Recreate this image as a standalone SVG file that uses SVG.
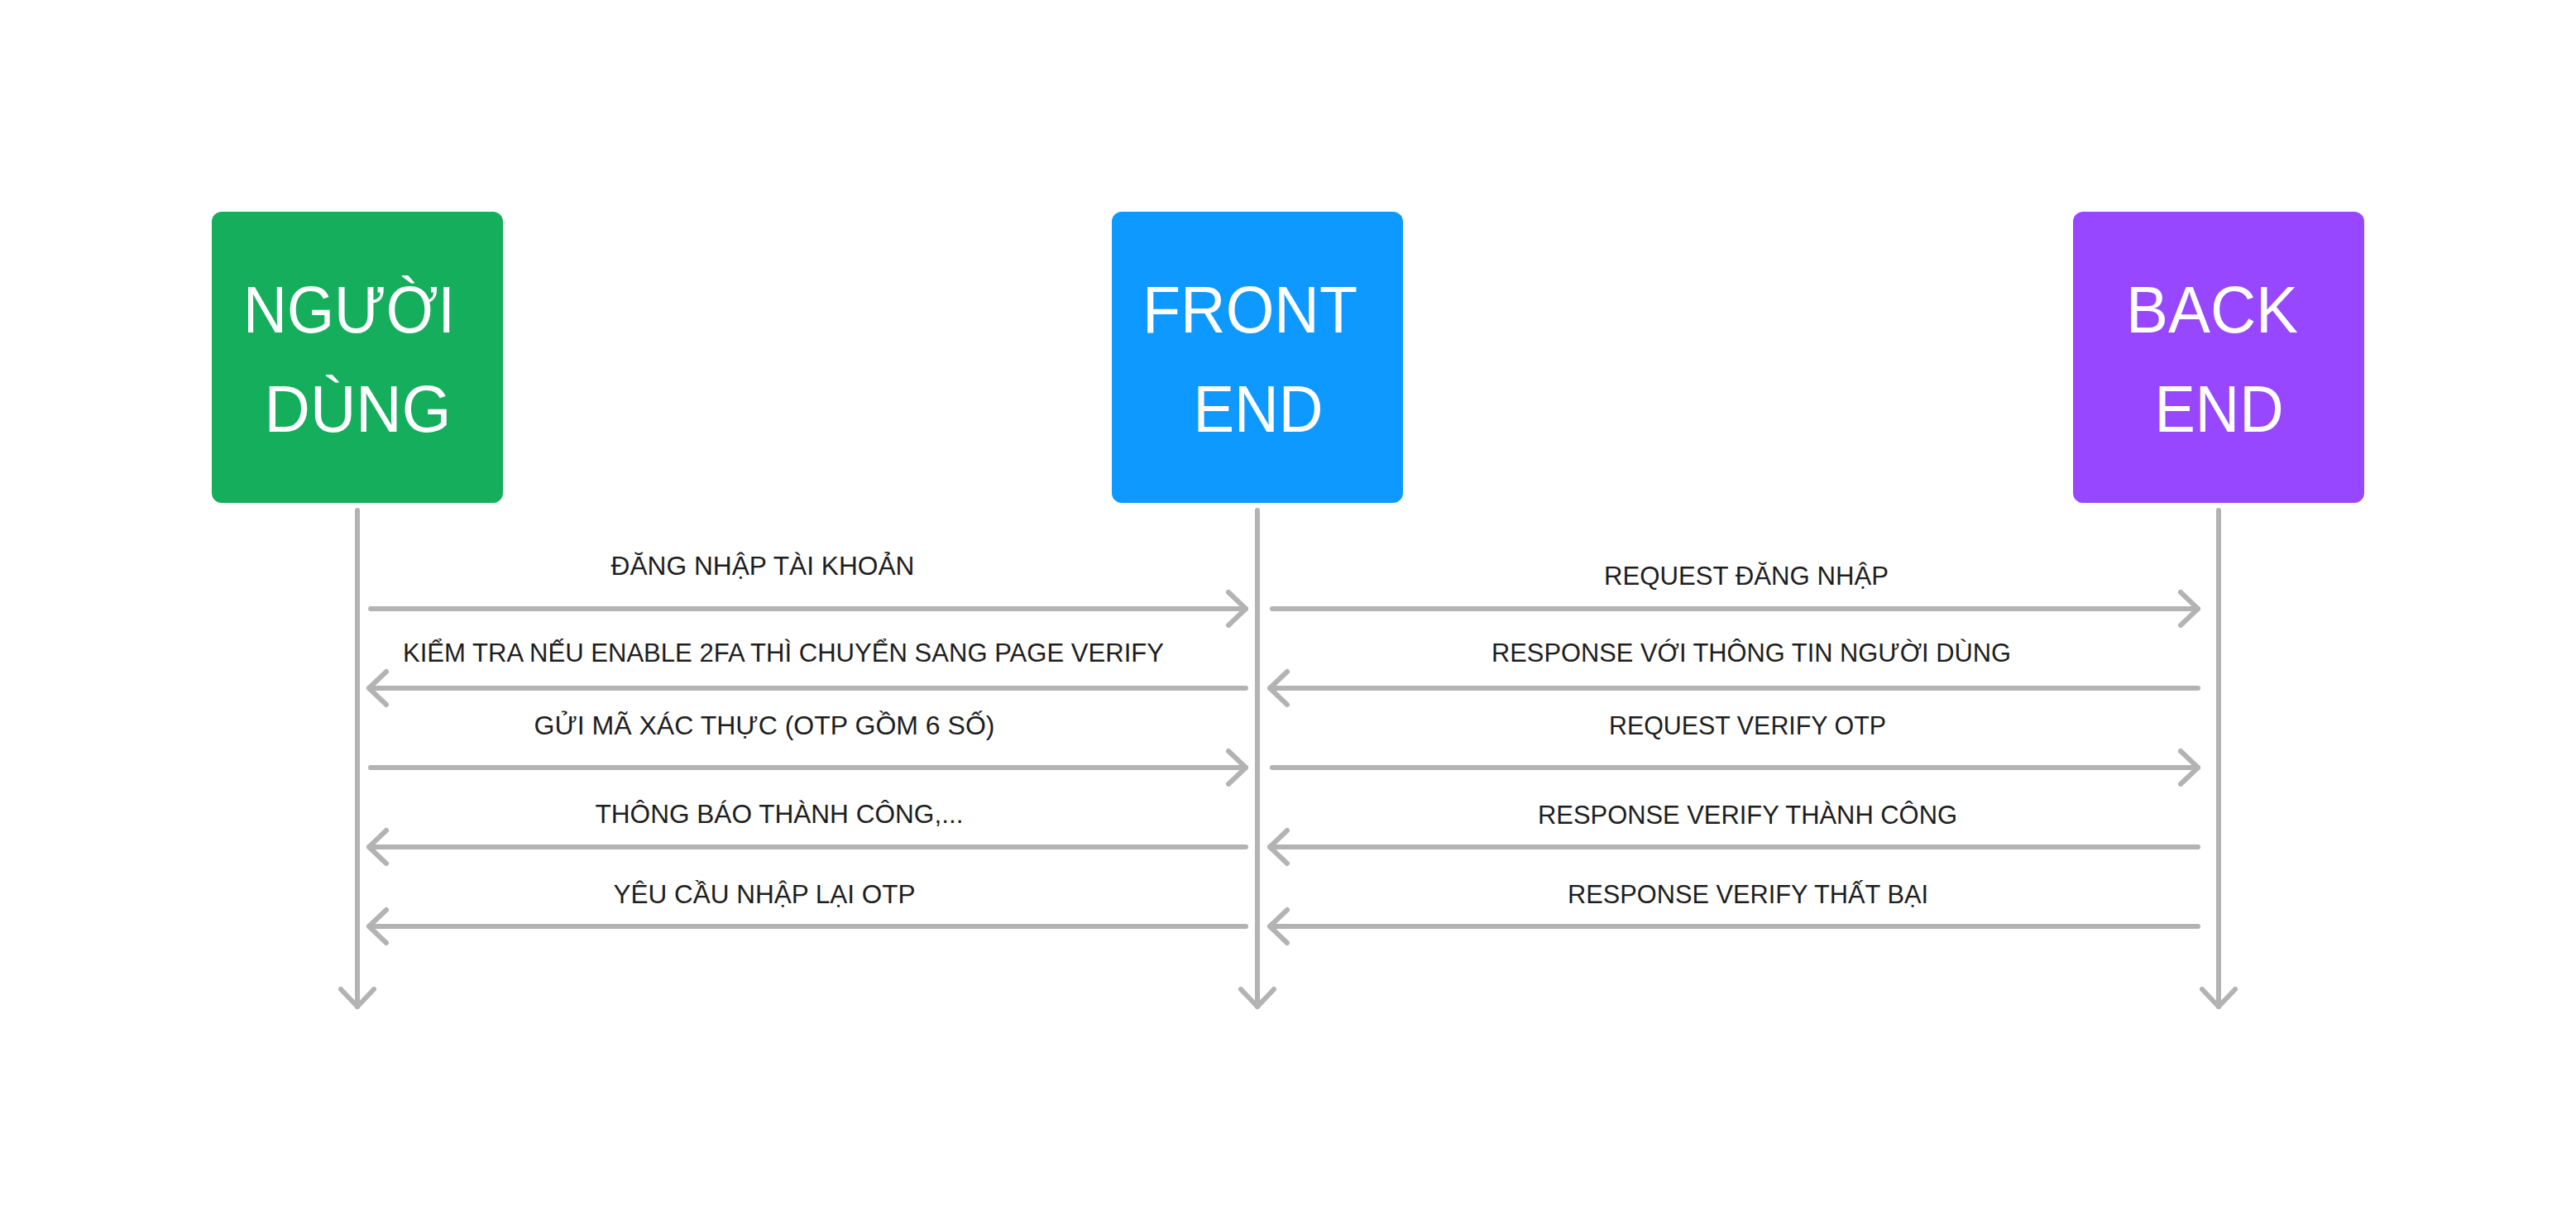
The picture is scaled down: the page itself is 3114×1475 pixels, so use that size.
<svg xmlns="http://www.w3.org/2000/svg" width="3114" height="1475" viewBox="0 0 3114 1475">
  <defs>
    <style>
      .box-text { font-family: "Liberation Sans", Arial, sans-serif; font-size: 80px; fill: #ffffff; text-anchor: middle; }
      .label { font-family: "Liberation Sans", Arial, sans-serif; font-size: 31px; fill: #1e1e1e; text-anchor: middle; }
      .wire { stroke: #b3b3b3; stroke-width: 6; stroke-linecap: round; stroke-linejoin: round; fill: none; }
    </style>
    <marker id="head" viewBox="-24 -24 30 48" markerWidth="30" markerHeight="48" refX="0" refY="0" orient="auto" markerUnits="userSpaceOnUse">
      <path d="M -21 -20 L 0 0 L -21 20" fill="none" stroke="#b3b3b3" stroke-width="6" stroke-linecap="round" stroke-linejoin="round"/>
    </marker>
  </defs>
  <rect width="3114" height="1475" fill="#ffffff"/>

  <g id="node-nguoidung">
    <rect x="256" y="256" width="352" height="352" rx="12" fill="#14ae5c"/>
    <text class="box-text" x="422" y="402" textLength="256" lengthAdjust="spacingAndGlyphs">NGƯỜI</text>
    <text class="box-text" x="432.5" y="522" textLength="226" lengthAdjust="spacingAndGlyphs">DÙNG</text>
  </g>
  <g id="node-frontend">
    <rect x="1344" y="256" width="352" height="352" rx="12" fill="#0d99ff"/>
    <text class="box-text" x="1511" y="402" textLength="260" lengthAdjust="spacingAndGlyphs">FRONT</text>
    <text class="box-text" x="1521" y="522" textLength="157" lengthAdjust="spacingAndGlyphs">END</text>
  </g>
  <g id="node-backend">
    <rect x="2506" y="256" width="352" height="352" rx="12" fill="#9747ff"/>
    <text class="box-text" x="2674" y="402" textLength="208" lengthAdjust="spacingAndGlyphs">BACK</text>
    <text class="box-text" x="2682.5" y="522" textLength="156" lengthAdjust="spacingAndGlyphs">END</text>
  </g>

  <g id="connectors">
    <line class="wire" x1="432" y1="617" x2="432" y2="1217" marker-end="url(#head)"/>
    <line class="wire" x1="1520" y1="617" x2="1520" y2="1217" marker-end="url(#head)"/>
    <line class="wire" x1="2682" y1="617" x2="2682" y2="1217" marker-end="url(#head)"/>

    <line class="wire" x1="448" y1="736" x2="1506" y2="736" marker-end="url(#head)"/>
    <line class="wire" x1="1538" y1="736" x2="2657" y2="736" marker-end="url(#head)"/>

    <line class="wire" x1="1506" y1="832" x2="446" y2="832" marker-end="url(#head)"/>
    <line class="wire" x1="2657" y1="832" x2="1535" y2="832" marker-end="url(#head)"/>

    <line class="wire" x1="448" y1="928" x2="1506" y2="928" marker-end="url(#head)"/>
    <line class="wire" x1="1538" y1="928" x2="2657" y2="928" marker-end="url(#head)"/>

    <line class="wire" x1="1506" y1="1024" x2="446" y2="1024" marker-end="url(#head)"/>
    <line class="wire" x1="2657" y1="1024" x2="1535" y2="1024" marker-end="url(#head)"/>

    <line class="wire" x1="1506" y1="1120" x2="446" y2="1120" marker-end="url(#head)"/>
    <line class="wire" x1="2657" y1="1120" x2="1535" y2="1120" marker-end="url(#head)"/>
  </g>

  <g id="labels">
    <text class="label" x="922" y="695" textLength="367" lengthAdjust="spacingAndGlyphs">ĐĂNG NHẬP TÀI KHOẢN</text>
    <text class="label" x="2111" y="707" textLength="344" lengthAdjust="spacingAndGlyphs">REQUEST ĐĂNG NHẬP</text>
    <text class="label" x="947" y="800" textLength="920" lengthAdjust="spacingAndGlyphs">KIỂM TRA NẾU ENABLE 2FA THÌ CHUYỂN SANG PAGE VERIFY</text>
    <text class="label" x="2117" y="800" textLength="628" lengthAdjust="spacingAndGlyphs">RESPONSE VỚI THÔNG TIN NGƯỜI DÙNG</text>
    <text class="label" x="924" y="888" textLength="557" lengthAdjust="spacingAndGlyphs">GỬI MÃ XÁC THỰC (OTP GỒM 6 SỐ)</text>
    <text class="label" x="2112.5" y="888" textLength="335" lengthAdjust="spacingAndGlyphs">REQUEST VERIFY OTP</text>
    <text class="label" x="942" y="995" textLength="445" lengthAdjust="spacingAndGlyphs">THÔNG BÁO THÀNH CÔNG,...</text>
    <text class="label" x="2112.5" y="996" textLength="507" lengthAdjust="spacingAndGlyphs">RESPONSE VERIFY THÀNH CÔNG</text>
    <text class="label" x="924" y="1092" textLength="365" lengthAdjust="spacingAndGlyphs">YÊU CẦU NHẬP LẠI OTP</text>
    <text class="label" x="2113" y="1092" textLength="436" lengthAdjust="spacingAndGlyphs">RESPONSE VERIFY THẤT BẠI</text>
  </g>
</svg>
